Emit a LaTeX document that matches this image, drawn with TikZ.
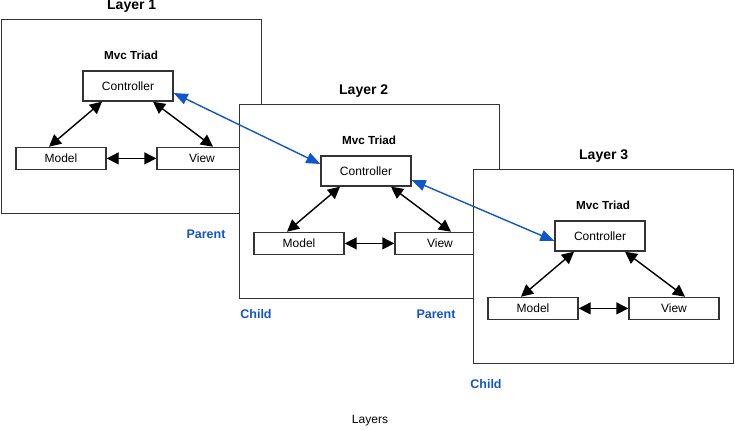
\documentclass[tikz,border=0pt]{standalone}
\usepackage{fontspec}
\setmainfont{Liberation Sans}
\usetikzlibrary{arrows.meta, positioning}
\definecolor{linkblue}{RGB}{17, 85, 204}
\definecolor{edgegray}{RGB}{51, 51, 51}

\begin{document}
\begin{tikzpicture}[
                x=1pt, y=-1pt,
                layerbox/.style={
                    rectangle,
                    draw=edgegray,
                    fill=white,
                    line width=1.4pt,
                    minimum width=260pt,
                    minimum height=194pt,
                    inner sep=0pt,
                    anchor=north west
                },
                part/.style={
                    rectangle,
                    draw=edgegray,
                    fill=white,
                    line width=1.4pt,
                    minimum width=90pt,
                    minimum height=22pt,
                    inner sep=0pt,
                    font=\fontsize{12}{14}\selectfont
                },
                heading/.style={inner sep=0pt, font=\fontsize{14}{16}\selectfont\bfseries},
                triad/.style={inner sep=0pt, font=\fontsize{11.7}{14}\selectfont\bfseries},
                role/.style={inner sep=0pt, text=linkblue, font=\fontsize{12.5}{14}\selectfont\bfseries},
                arrow/.style={{Triangle[length=12pt,width=12pt]}-{Triangle[length=12pt,width=12pt]}, line width=1.4pt, black},
                link/.style={{Triangle[length=14pt,width=11pt]}-{Triangle[length=14pt,width=11pt]}, line width=1.4pt, linkblue}
            ]

            \useasboundingbox (0,0) rectangle (735,429);

            % Layers, back to front
            \foreach \i/\x/\y/\t in {1/1/19/0, 2/239/104/-6, 3/473/169/0} {
                \begin{scope}[shift={(\x,\y)}]
                    \node (layer\i) [layerbox] at (0,0) {};
                    \node (title\i) [heading, above=6pt of layer\i, xshift=\t pt] {Layer \i};

                    \node (ctrl\i) [part, minimum height=30pt] at (127,67) {Controller};
                    \node (triad\i) [triad, above=10pt of ctrl\i, xshift=3pt] {Mvc Triad};

                    \node (model\i) [part, below=45pt of ctrl\i, xshift=-67pt] {Model};
                    \node (view\i) [part, below=45pt of ctrl\i, xshift=74pt] {View};

                    \draw [arrow] ([xshift=-26pt]ctrl\i.south) -- ([xshift=-12pt]model\i.north);
                    \draw [arrow] ([xshift=25pt]ctrl\i.south) -- ([xshift=11pt]view\i.north);
                    \draw [arrow] (model\i) -- (view\i);
                \end{scope}
            }

            % Parent / Child
            \node (parent1) [role] at (206,234) {Parent};
            \node (child2) [role] at (256,314) {Child};
            \node (parent2) [role] at (436,314) {Parent};
            \node (child3) [role] at (486,384) {Child};

            % Links between controllers
            \draw [link] ([yshift=-7pt]ctrl1.east) -- ([yshift=7pt]ctrl2.west);
            \draw [link] ([yshift=-9pt]ctrl2.east) -- ([yshift=-5pt]ctrl3.west);

            \node (caption) [font=\fontsize{12}{14}\selectfont] at (370,421) {Layers};

            \end{tikzpicture}
\end{document}
